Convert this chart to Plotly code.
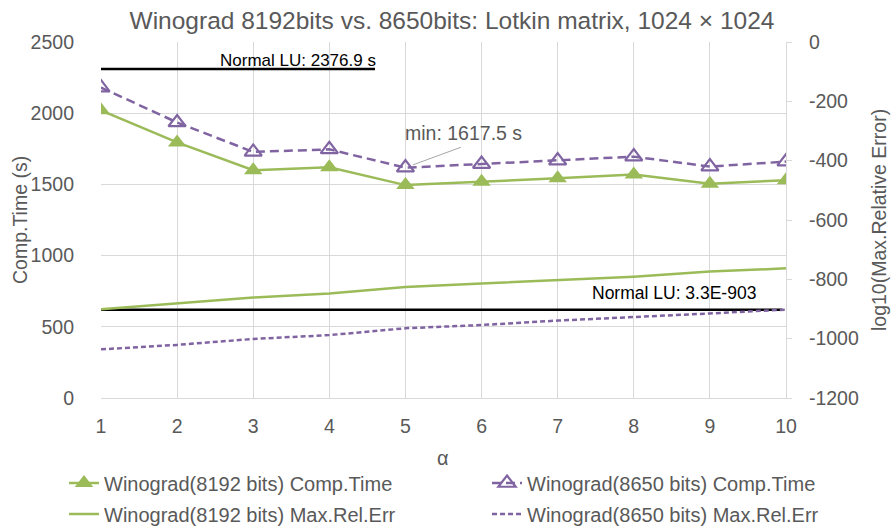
import plotly.graph_objects as go

alpha = [1, 2, 3, 4, 5, 6, 7, 8, 9, 10]
time_8192 = [2020, 1795, 1600, 1620, 1495, 1518, 1543, 1570, 1505, 1530]
time_8650 = [2180, 1935, 1728, 1746, 1617.5, 1643, 1667, 1695, 1625, 1660]
err_8192 = [-901, -881, -861, -848, -826, -814, -802, -791, -774, -763]
err_8650 = [-1036, -1021, -1001, -988, -965, -954, -939, -928, -915, -902]
time_ticks = [0, 500, 1000, 1500, 2000, 2500]
err_ticks = [0, -200, -400, -600, -800, -1000, -1200]
normal_lu_time = 2376.9
normal_lu_time_line_y = 2310
normal_lu_time_line_x = [1, 4.6]
normal_lu_err = -902.5
min_time = 1617.5
min_alpha = 5

GREEN = "#9BBB59"
PURPLE = "#8064A2"
TXT = "#595959"
GRID = "#D9D9D9"
FONT = "Liberation Sans, Arial, sans-serif"

W, H = 895, 529
L, R, T, B = 101, 109, 42, 131
PW, PH = W - L - R, H - T - B

fig = go.Figure()

# Normal LU reference lines
fig.add_trace(go.Scatter(x=normal_lu_time_line_x, y=[normal_lu_time_line_y] * 2, mode="lines",
                         line=dict(color="#000000", width=2.5), showlegend=False, hoverinfo="skip"))
fig.add_trace(go.Scatter(x=[alpha[0], alpha[-1] - 0.05], y=[normal_lu_err] * 2, mode="lines", yaxis="y2",
                         line=dict(color="#000000", width=2.5), showlegend=False, hoverinfo="skip"))

fig.add_trace(go.Scatter(x=alpha, y=time_8192, mode="lines+markers", name="Winograd(8192 bits) Comp.Time",
                         line=dict(color=GREEN, width=2.5),
                         marker=dict(symbol="triangle-up", size=16, color=GREEN),
                         legend="legend"))
fig.add_trace(go.Scatter(x=alpha, y=time_8650, mode="lines+markers", name="Winograd(8650 bits) Comp.Time",
                         line=dict(color=PURPLE, width=2.5, dash="9px,5px"),
                         marker=dict(symbol="triangle-up-open", size=15, color=PURPLE, line=dict(width=2.2)),
                         legend="legend2"))
fig.add_trace(go.Scatter(x=alpha, y=err_8192, mode="lines", name="Winograd(8192 bits) Max.Rel.Err", yaxis="y2",
                         line=dict(color=GREEN, width=2.5), legend="legend3"))
fig.add_trace(go.Scatter(x=alpha, y=err_8650, mode="lines", name="Winograd(8650 bits) Max.Rel.Err", yaxis="y2",
                         line=dict(color=PURPLE, width=2.5, dash="5px,3px"), legend="legend4"))

leg_common = dict(font=dict(family=FONT, size=20, color=TXT), bgcolor="rgba(0,0,0,0)",
                  xref="container", yref="container", xanchor="left", yanchor="middle", itemwidth=30)

fig.update_layout(
    width=W, height=H,
    margin=dict(l=L, r=R, t=T, b=B, autoexpand=False),
    paper_bgcolor="white", plot_bgcolor="white",
    font=dict(family=FONT, color=TXT, size=19.5),
    title=dict(text="Winograd 8192bits vs. 8650bits: Lotkin matrix, 1024 × 1024",
               font=dict(family=FONT, size=24.5, color=TXT),
               x=0.505, xref="container", xanchor="center", y=1 - 20 / H, yref="container", yanchor="middle"),
    xaxis=dict(range=[1, 10], tickvals=alpha, ticktext=[str(a) for a in alpha], showgrid=True, gridcolor=GRID,
               gridwidth=1, zeroline=False, showline=True, linecolor=GRID, ticks="", tickfont=dict(size=19.5),
               ticklabelstandoff=11, automargin=False, tickangle=0),
    yaxis=dict(range=[0, 2500], tickvals=time_ticks, ticktext=[str(v) for v in time_ticks],
               showgrid=True, gridcolor=GRID, zeroline=False, showline=False,
               ticks="", tickfont=dict(size=19.5), ticklabelstandoff=26, automargin=False),
    yaxis2=dict(range=[-1200, 0], tickvals=err_ticks, ticktext=[str(v) for v in err_ticks],
                overlaying="y", side="right", showgrid=False, zeroline=False,
                showline=True, linecolor=GRID, ticks="outside", ticklen=5, tickcolor=GRID,
                tickfont=dict(size=19.5), ticklabelstandoff=13, automargin=False),
    legend=dict(x=64 / W, y=1 - 483 / H, **leg_common),
    legend2=dict(x=487 / W, y=1 - 483 / H, **leg_common),
    legend3=dict(x=64 / W, y=1 - 514 / H, **leg_common),
    legend4=dict(x=487 / W, y=1 - 514 / H, **leg_common),
    annotations=[
        # axis titles
        dict(text="Comp.Time (s)", x=(20 - L) / PW, y=0.5, xref="paper", yref="paper", textangle=-90,
             showarrow=False, xanchor="center", yanchor="middle", font=dict(family=FONT, size=19.5, color=TXT)),
        dict(text="log10(Max.Relative Error)", x=(879 - L) / PW, y=0.5, xref="paper", yref="paper",
             textangle=-90, showarrow=False, xanchor="center", yanchor="middle",
             font=dict(family=FONT, size=19.5, color=TXT)),
        dict(text="α", x=(443 - L) / PW, y=(T + PH - 458) / PH, xref="paper", yref="paper",
             showarrow=False, xanchor="center", yanchor="middle", font=dict(family=FONT, size=20, color=TXT)),
        # reference labels
        dict(x=3.59, y=normal_lu_time_line_y, xref="x", yref="y", text=f"Normal LU: {normal_lu_time} s",
             showarrow=False, yanchor="middle", yshift=8.5, font=dict(family=FONT, size=17, color="#000000")),
        dict(x=8.53, y=normal_lu_err, xref="x", yref="y2", text="Normal LU: 3.3E-903",
             showarrow=False, yanchor="middle", yshift=16.5, font=dict(family=FONT, size=17.5, color="#000000")),
        dict(x=min_alpha, y=min_time, xref="x", yref="y", text=f"min: {min_time} s",
             showarrow=False, xshift=58, yshift=35, font=dict(family=FONT, size=19.5, color=TXT)),
        dict(x=min_alpha, y=min_time, xref="x", yref="y", text="",
             showarrow=True, arrowhead=0, arrowcolor="#A6A6A6", arrowwidth=1, ax=57, ay=-21, standoff=8),
    ],
)

fig.write_html("out.html", config={"displayModeBar": False},
               post_script="document.body.style.margin='0px';")
